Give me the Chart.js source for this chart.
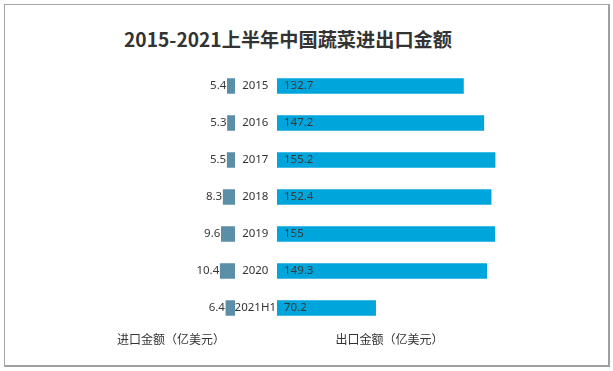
<!DOCTYPE html>
<html>
<head>
<meta charset="utf-8">
<script src="https://cdn.jsdelivr.net/npm/chart.js@4"></script>
<style>
  body { margin: 0; background: #fff; }
  #wrap { position: relative; width: 613px; height: 371px; overflow: hidden; }
  #frame { position: absolute; left: 4px; top: 4px; width: 603px; height: 360px;
           border-left: 1px solid #a6a6a6; border-top: 1px solid #a6a6a6;
           border-right: 2px solid #a0a0a0; border-bottom: 2px solid #a0a0a0; }
  #title { position: absolute; left: 0; top: 26px; width: 576px; text-align: center;
           font: bold 19.2px "Noto Sans CJK SC", sans-serif; color: #333; line-height: 26px; }
  canvas { position: absolute; top: 0; }
  #imp { left: 0; }
  #exp { left: 235px; }
</style>
</head>
<body>
<div id="wrap">
  <div id="frame"></div>
  <div id="title">2015-2021上半年中国蔬菜进出口金额</div>
  <canvas id="imp" width="240" height="371"></canvas>
  <canvas id="exp" width="378" height="371"></canvas>
</div>
<script>
var years = ["2015", "2016", "2017", "2018", "2019", "2020", "2021H1"];
var importVals = [5.4, 5.3, 5.5, 8.3, 9.6, 10.4, 6.4];
var exportVals = [132.7, 147.2, 155.2, 152.4, 155, 149.3, 70.2];

var labelFont = '11.5px "Noto Sans", sans-serif';
var axisTitleFont = {family: '"Noto Sans CJK SC", sans-serif', size: 12};

// value labels next to / inside the bars
var valueLabels = {
  id: "valueLabels",
  afterDatasetsDraw: function(chart, args, opts) {
    var ctx = chart.ctx;
    var meta = chart.getDatasetMeta(0);
    var vals = chart.data.datasets[0].data;
    ctx.save();
    ctx.font = labelFont;
    ctx.fillStyle = "#383838";
    ctx.textBaseline = "middle";
    meta.data.forEach(function(bar, i) {
      if (opts.outside) {
        ctx.textAlign = "right";
        ctx.fillText(String(vals[i]), bar.x - 1, bar.y);
      } else {
        ctx.textAlign = "left";
        ctx.fillText(String(vals[i]), bar.base + 7, bar.y);
      }
    });
    ctx.restore();
  }
};

new Chart(document.getElementById("imp"), {
  type: "bar",
  data: {
    labels: years,
    datasets: [{
      data: importVals,
      backgroundColor: "#5b8fa7",
      barThickness: 15
    }]
  },
  plugins: [valueLabels],
  options: {
    indexAxis: "y",
    responsive: false,
    animation: false,
    layout: {padding: {left: 107, right: 5, top: 67.5, bottom: 24.1}},
    plugins: {
      legend: {display: false},
      tooltip: {enabled: false},
      valueLabels: {outside: true}
    },
    scales: {
      x: {
        min: 0, max: 90, reverse: true,
        grid: {display: false, drawTicks: false},
        border: {display: false},
        ticks: {display: false},
        title: {display: true, text: "进口金额（亿美元）", color: "#333",
                font: axisTitleFont, padding: {top: 6, bottom: 0}}
      },
      y: {display: false}
    }
  }
});

new Chart(document.getElementById("exp"), {
  type: "bar",
  data: {
    labels: years,
    datasets: [{
      data: exportVals,
      backgroundColor: "#00a5dc",
      barThickness: 15
    }]
  },
  plugins: [valueLabels],
  options: {
    indexAxis: "y",
    responsive: false,
    animation: false,
    layout: {padding: {left: 0, right: 111.2, top: 67.5, bottom: 24.1}},
    plugins: {
      legend: {display: false},
      tooltip: {enabled: false},
      valueLabels: {outside: false}
    },
    scales: {
      x: {
        min: 0, max: 160,
        grid: {display: false, drawTicks: false},
        border: {display: false},
        ticks: {display: false},
        title: {display: true, text: "出口金额（亿美元）", color: "#333",
                font: axisTitleFont, padding: {top: 6, bottom: 0}}
      },
      y: {
        grid: {display: false, drawTicks: false},
        border: {display: false},
        ticks: {crossAlign: "center", padding: 1, color: "#333",
                font: {family: '"Noto Sans", sans-serif', size: 11.5}},
        afterFit: function(scale) { scale.width = 42; }
      }
    }
  }
});
</script>
</body>
</html>
